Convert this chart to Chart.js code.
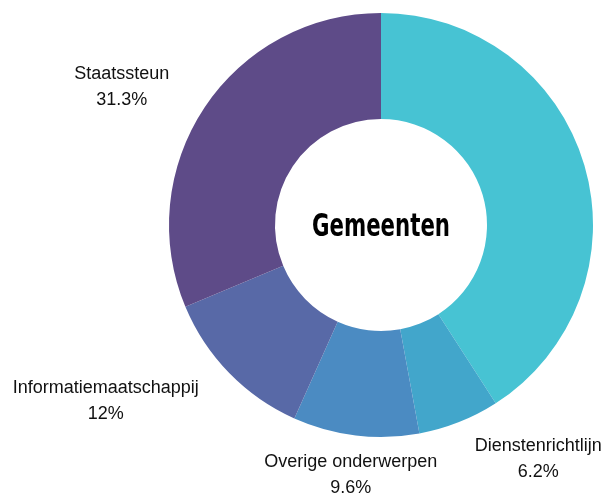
<!DOCTYPE html>
<html>
<head>
<meta charset="utf-8">
<script src="https://cdn.jsdelivr.net/npm/chart.js@4/dist/chart.umd.min.js"></script>
<style>
  html, body { margin: 0; padding: 0; background: #fff; }
  #wrap { width: 609px; height: 495px; position: relative; }
</style>
</head>
<body>
<div id="wrap"><canvas id="onderwerpChart"></canvas></div>
<script>
var onderwerpen = ['', 'Dienstenrichtlijn', 'Overige onderwerpen', 'Informatiemaatschappij', 'Staatssteun'];
var percentages = [40.9, 6.2, 9.6, 12, 31.3];
var kleuren = ['#47C3D3', '#42A6CB', '#4B8BC2', '#5869A7', '#5E4B88'];
var titel = 'Gemeenten';

// labels outside the ring, anchored on the middle of each slice
var sliceLabels = {
    id: 'sliceLabels',
    afterDraw: function (chart) {
        var ctx = chart.ctx;
        var arcs = chart.getDatasetMeta(0).data;
        ctx.save();
        ctx.font = '18px "Liberation Sans", Arial, sans-serif';
        ctx.fillStyle = '#111';
        ctx.textBaseline = 'middle';
        ctx.textAlign = 'center';
        arcs.forEach(function (arc, i) {
            if (!onderwerpen[i]) return;
            var mid = (arc.startAngle + arc.endAngle) / 2;
            var r = arc.outerRadius * 1.2;
            var ax = arc.x + Math.cos(mid) * r;
            var ay = arc.y + Math.sin(mid) * r * 0.985;
            var lines = [onderwerpen[i], percentages[i] + '%'];
            var w = Math.max.apply(null, lines.map(function (l) { return ctx.measureText(l).width; }));
            var cx = ax;
            if (Math.cos(mid) < -0.3) cx = ax - w / 2;
            else if (Math.cos(mid) > 0.3) cx = ax + w / 2;
            ctx.fillText(lines[0], cx, ay - 12);
            ctx.fillText(lines[1], cx, ay + 14);
        });
        // centre title, squeezed to look condensed
        ctx.font = 'bold 32px "Liberation Sans Narrow", "DejaVu Sans Condensed", sans-serif';
        ctx.fillStyle = '#000';
        ctx.textBaseline = 'alphabetic';
        var tw = ctx.measureText(titel).width;
        var sx = Math.min(1, 138 / tw);
        ctx.translate(arcs[0].x, arcs[0].y + 11);
        ctx.scale(sx, 1);
        ctx.fillText(titel, 0, 0);
        ctx.restore();
    }
};

var ctx = document.getElementById('onderwerpChart').getContext('2d');
var myChart = new Chart(ctx, {
    type: 'doughnut',
    data: {
        labels: onderwerpen,
        datasets: [{
            data: percentages,
            backgroundColor: kleuren,
            borderWidth: 0,
            hoverOffset: 0
        }]
    },
    options: {
        responsive: true,
        maintainAspectRatio: false,
        animation: false,
        cutout: '50%',
        layout: {
            padding: { left: 169, right: 16, top: 13, bottom: 58 }
        },
        plugins: {
            legend: { display: false },
            tooltip: { enabled: false }
        }
    },
    plugins: [sliceLabels]
});
</script>
</body>
</html>
